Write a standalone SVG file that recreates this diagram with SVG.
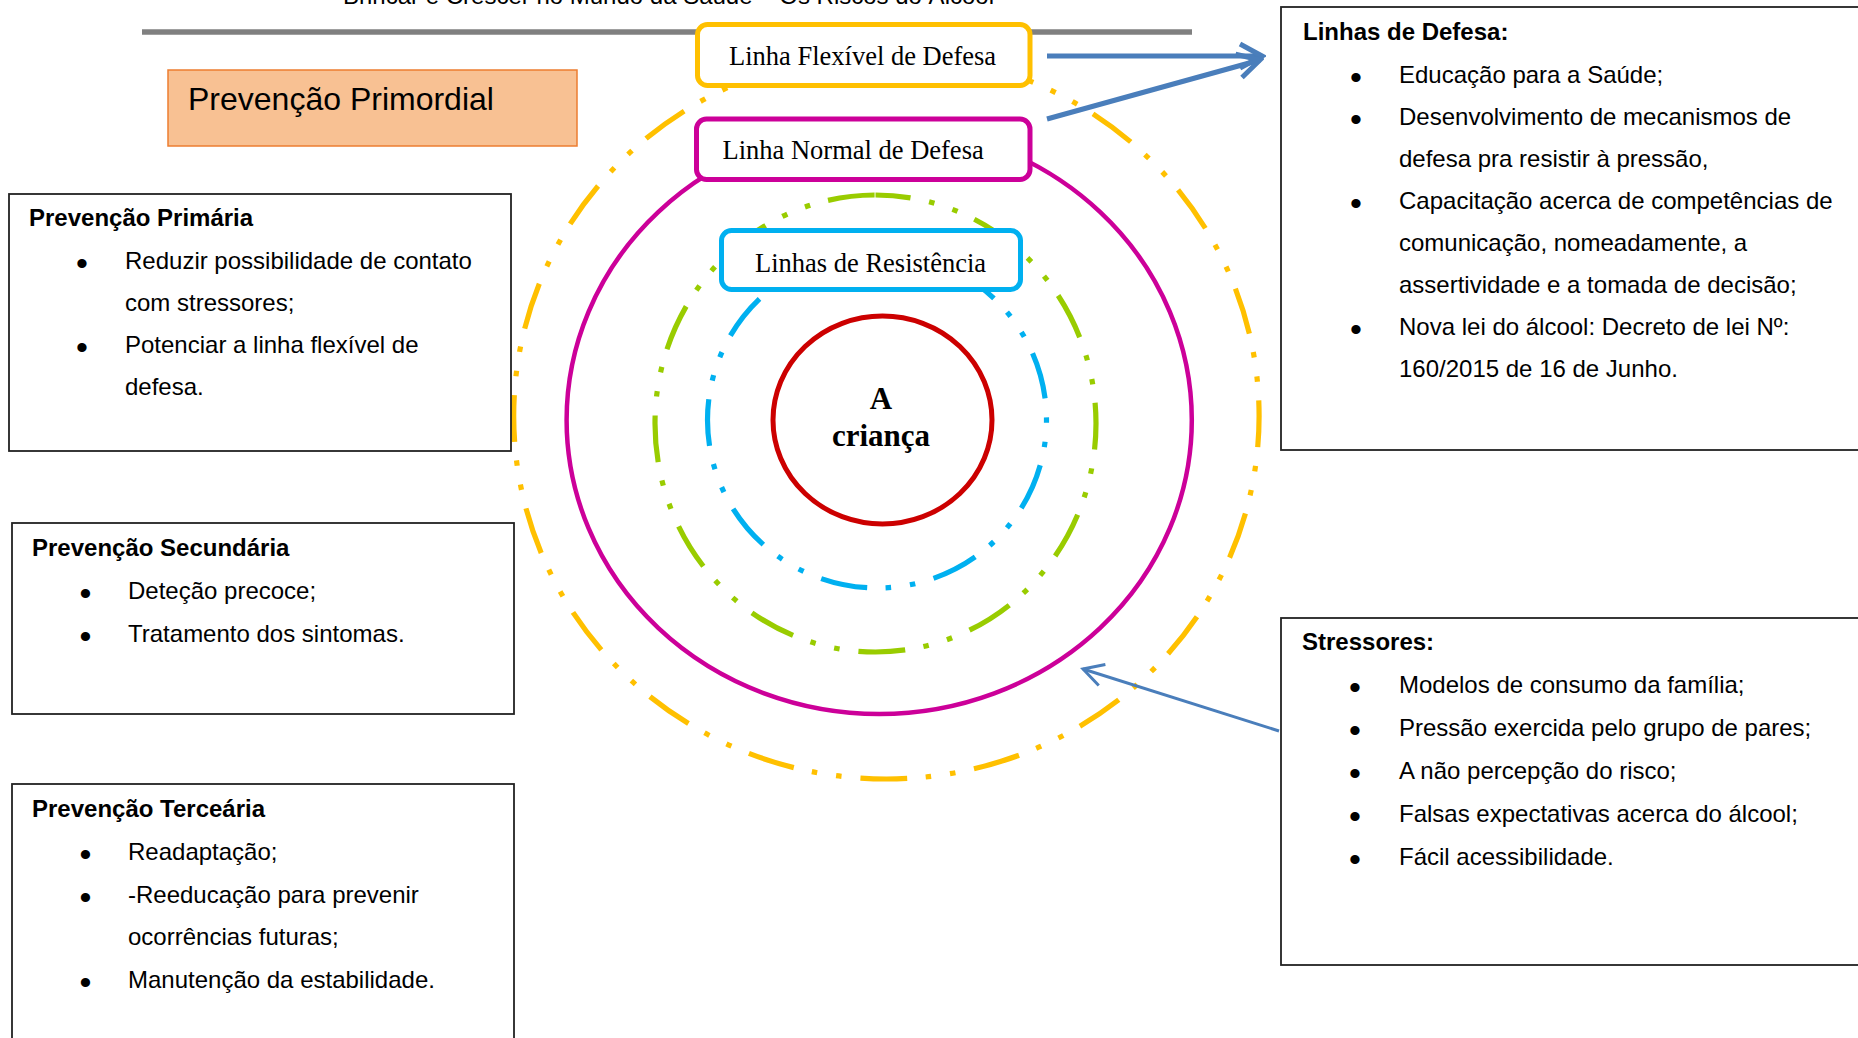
<svg xmlns="http://www.w3.org/2000/svg" width="1858" height="1038" viewBox="0 0 1858 1038">
<style>
.box{fill:#fff;stroke:#222;stroke-width:1.8}
.t{font-family:"Liberation Sans",Arial,sans-serif;font-size:24px;fill:#000}
.b{font-weight:bold}
.bul{font-family:"Liberation Sans",Arial,sans-serif;font-size:34px;fill:#000;text-anchor:middle}
.ring{fill:none;stroke-width:5.2;stroke-dasharray:47 19 5.5 19 5.5 18.5}
.lbl{fill:#fff;stroke-width:5}
.serif{font-family:"Liberation Serif","Times New Roman",serif;font-size:26.5px;fill:#000}
.conn{fill:none;stroke:#4A7EBB}
</style>
<defs>
<marker id="ahThick" markerUnits="userSpaceOnUse" viewBox="-26 -16 30 32" refX="0" refY="0" markerWidth="30" markerHeight="32" orient="auto">
<path d="M-22,-12 L0,0 L-22,12" fill="none" stroke="#4A7EBB" stroke-width="5"/>
</marker>
<marker id="ahThin" markerUnits="userSpaceOnUse" viewBox="-24 -14 28 28" refX="0" refY="0" markerWidth="28" markerHeight="28" orient="auto">
<path d="M-20,-11 L0,0 L-20,11" fill="none" stroke="#4A7EBB" stroke-width="3"/>
</marker>
</defs>
<rect width="1858" height="1038" fill="#fff"/>

<g id="header">
<text class="t" x="343" y="3.5">Brincar e Crescer no Mundo da Saúde – Os Riscos do Álcool</text>
<line x1="142" y1="32" x2="1192" y2="32" stroke="#808080" stroke-width="5.5"/>
</g>

<g id="rings">
<path id="ring-flexivel" class="ring" d="M886.4,53 A372.7,363 0 0 1 886.4,779 A372.7,363 0 0 1 886.4,53 Z" stroke="#FFC000" stroke-dashoffset="10.7"/>
<ellipse id="ring-normal" cx="879.2" cy="420" rx="312.6" ry="294" fill="none" stroke="#CC0099" stroke-width="4.5"/>
<path id="ring-green" class="ring" d="M875.5,195 A220.5,228.5 0 0 1 875.5,652 A220.5,228.5 0 0 1 875.5,195 Z" stroke="#99CC00" stroke-dashoffset="11.8"/>
<path id="ring-resistencia" class="ring" d="M877,252 A169.5,168 0 0 1 877,588 A169.5,168 0 0 1 877,252 Z" stroke="#00B0F0" stroke-dashoffset="32.7"/>
</g>

<g id="crianca">
<ellipse cx="882.5" cy="420" rx="109.5" ry="104" fill="none" stroke="#CC0000" stroke-width="5"/>
<text x="881" y="409" font-family="'Liberation Serif','Times New Roman',serif" font-weight="bold" font-size="31" text-anchor="middle">A</text>
<text x="881" y="445.5" font-family="'Liberation Serif','Times New Roman',serif" font-weight="bold" font-size="31" text-anchor="middle">criança</text>
</g>

<g id="linha-flexivel">
<rect class="lbl" x="697.5" y="24.5" width="332.5" height="61" rx="10" stroke="#FFC000"/>
<text class="serif" x="729" y="65">Linha Flexível de Defesa</text>
</g>
<g id="linha-normal">
<rect class="lbl" x="696.5" y="119" width="333.5" height="60.5" rx="10" stroke="#CC0099"/>
<text class="serif" x="722.5" y="159">Linha Normal de Defesa</text>
</g>
<g id="linhas-resistencia">
<rect class="lbl" x="721.5" y="230.5" width="299" height="59" rx="10" stroke="#00B0F0"/>
<text class="serif" x="755" y="272">Linhas de Resistência</text>
</g>

<g id="prevencao-primordial">
<rect x="168" y="70" width="409" height="76" fill="#F8C193" stroke="#ED7D31" stroke-width="1.5"/>
<text x="188" y="110" font-family="'Liberation Sans',Arial,sans-serif" font-size="32">Prevenção Primordial</text>
</g>

<g id="prevencao-primaria">
<rect class="box" x="9" y="194" width="502" height="257"/>
<text class="t b" x="29" y="226">Prevenção Primária</text>
<text class="bul" x="82" y="275">•</text>
<text class="t" x="125" y="269">Reduzir possibilidade de contato</text>
<text class="t" x="125" y="311">com stressores;</text>
<text class="bul" x="82" y="359">•</text>
<text class="t" x="125" y="353">Potenciar a linha flexível de</text>
<text class="t" x="125" y="395">defesa.</text>
</g>

<g id="prevencao-secundaria">
<rect class="box" x="12" y="523" width="502" height="191"/>
<text class="t b" x="32" y="556">Prevenção Secundária</text>
<text class="bul" x="85.5" y="605">•</text>
<text class="t" x="128" y="599">Deteção precoce;</text>
<text class="bul" x="85.5" y="648">•</text>
<text class="t" x="128" y="642">Tratamento dos sintomas.</text>
</g>

<g id="prevencao-terciaria">
<rect class="box" x="12" y="784" width="502" height="300"/>
<text class="t b" x="32" y="817">Prevenção Terceária</text>
<text class="bul" x="85.5" y="866">•</text>
<text class="t" x="128" y="860">Readaptação;</text>
<text class="bul" x="85.5" y="909">•</text>
<text class="t" x="128" y="903">-Reeducação para prevenir</text>
<text class="t" x="128" y="945">ocorrências futuras;</text>
<text class="bul" x="85.5" y="994">•</text>
<text class="t" x="128" y="988">Manutenção da estabilidade.</text>
</g>

<g id="linhas-defesa">
<rect class="box" x="1281" y="7" width="700" height="443" stroke="#111"/>
<text class="t b" x="1303" y="40">Linhas de Defesa:</text>
<text class="bul" x="1356" y="89">•</text>
<text class="t" x="1399" y="83">Educação para a Saúde;</text>
<text class="bul" x="1356" y="131">•</text>
<text class="t" x="1399" y="125">Desenvolvimento de mecanismos de</text>
<text class="t" x="1399" y="167">defesa pra resistir à pressão,</text>
<text class="bul" x="1356" y="215">•</text>
<text class="t" x="1399" y="209">Capacitação acerca de competências de</text>
<text class="t" x="1399" y="251">comunicação, nomeadamente, a</text>
<text class="t" x="1399" y="293">assertividade e a tomada de decisão;</text>
<text class="bul" x="1356" y="341">•</text>
<text class="t" x="1399" y="335">Nova lei do álcool: Decreto de lei Nº:</text>
<text class="t" x="1399" y="377">160/2015 de 16 de Junho.</text>
</g>

<g id="stressores">
<rect class="box" x="1281" y="618" width="700" height="347"/>
<text class="t b" x="1302" y="650">Stressores:</text>
<text class="bul" x="1355" y="699">•</text>
<text class="t" x="1399" y="693">Modelos de consumo da família;</text>
<text class="bul" x="1355" y="742">•</text>
<text class="t" x="1399" y="736">Pressão exercida pelo grupo de pares;</text>
<text class="bul" x="1355" y="785">•</text>
<text class="t" x="1399" y="779">A não percepção do risco;</text>
<text class="bul" x="1355" y="828">•</text>
<text class="t" x="1399" y="822">Falsas expectativas acerca do álcool;</text>
<text class="bul" x="1355" y="871">•</text>
<text class="t" x="1399" y="865">Fácil acessibilidade.</text>
</g>

<g id="connectors">
<line class="conn" x1="1047" y1="56" x2="1262" y2="56" stroke-width="5" marker-end="url(#ahThick)"/>
<line class="conn" x1="1047" y1="119" x2="1260" y2="60" stroke-width="5" marker-end="url(#ahThick)"/>
<line class="conn" x1="1279" y1="731" x2="1083" y2="669" stroke-width="3" marker-end="url(#ahThin)"/>
</g>
</svg>
